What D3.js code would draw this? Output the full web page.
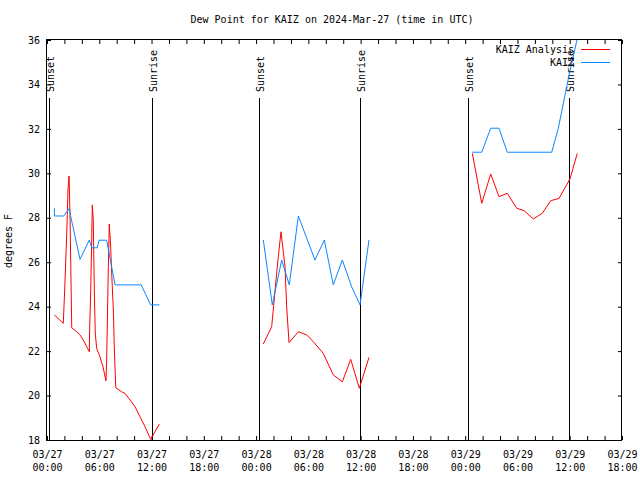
<!DOCTYPE html>
<html><head><meta charset="utf-8">
<script src="https://cdn.jsdelivr.net/npm/d3@7"></script>
<style>
body{margin:0;background:#fff}
text{font-family:"DejaVu Sans Mono","Liberation Mono",monospace;font-size:10px;fill:#000}
</style>
</head><body>
<svg id="chart" width="640" height="480"></svg>
<script>
// Hours after 2024-03-27 00:00 UTC; null breaks the line
const analysisHours = [0.84,1.87,2.03,2.26,2.41,2.53,2.64,2.84,3.41,3.79,4.17,4.56,4.86,4.90,5.02,5.13,5.20,5.31,5.43,5.54,5.70,6.08,6.43,6.77,6.85,6.97,7.08,7.15,7.27,7.46,7.61,7.73,7.84,7.89,8.57,8.95,9.53,10.10,10.67,11.25,11.90,12.89,
  null,
  24.83,25.79,25.97,26.36,26.63,26.86,27.01,27.32,27.51,27.78,28.85,29.81,30.57,31.71,32.86,33.90,34.86,35.85,36.96,
  null,
  48.82,49.90,50.93,51.88,52.83,53.91,54.75,55.82,56.85,57.82,58.77,60.03,60.87];
const analysisValues = [23.63,23.25,24.75,27.23,29.25,29.88,28.13,23.05,22.87,22.73,22.50,22.20,21.97,23.13,24.75,27.00,28.58,27.90,24.75,22.82,22.13,21.74,21.29,20.66,21.60,24.30,26.55,27.72,27.00,25.20,23.90,22.10,20.90,20.35,20.17,20.10,19.80,19.50,19.05,18.60,18.03,18.72,
  null,
  22.32,23.10,23.85,25.50,26.55,27.37,26.85,25.80,24.00,22.38,22.87,22.73,22.42,21.90,20.93,20.62,21.63,20.33,21.72,
  null,
  30.90,28.65,29.97,28.95,29.10,28.43,28.32,27.95,28.20,28.77,28.87,29.75,30.90];

const stationHours = [0.84,0.86,1.92,2.53,3.79,4.86,5.13,5.77,5.97,6.85,7.81,10.81,11.90,12.91,
  null,
  24.83,25.86,26.94,27.81,28.85,30.76,31.83,32.86,33.90,34.97,35.93,36.96,
  null,
  48.82,49.90,50.93,51.88,52.83,57.93,58.69,59.95,61.24];
const stationValues = [28.43,28.08,28.08,28.41,26.13,27.00,26.65,26.65,26.99,26.99,24.98,24.98,24.08,24.08,
  null,
  27.00,24.08,26.10,24.98,28.08,26.10,27.00,24.98,26.10,24.89,24.08,27.00,
  null,
  30.95,30.95,32.03,32.03,30.95,30.95,32.03,34.47,36.72];

const sunsetHours = [0.27, 24.33, 48.35];
const sunriseHours = [12.02, 35.93, 59.95];
const yTicks = [18,20,22,24,26,28,30,32,34,36];
const seriesNames = ["KAIZ Analysis", "KAIZ"];
const seriesColors = ["#ff0000", "#0a86ff"];
const titleText = "Dew Point for KAIZ on 2024-Mar-27 (time in UTC)";
const yLabel = "degrees F";

const t0 = Date.UTC(2024, 2, 27, 0, 0);
const toDate = h => h == null ? null : new Date(t0 + h * 3600e3);

const L = 47, R = 622, T = 40, B = 440;
const svg = d3.select("#chart");
const x = d3.scaleUtc().domain([toDate(0), toDate(66)]).range([L, R]);
const y = d3.scaleLinear().domain([18, 36]).range([B, T]);

// title
svg.append("text").attr("x", 332).attr("y", 23).attr("text-anchor", "middle").text(titleText);

// y label
svg.append("text").attr("transform", "translate(12,241) rotate(-90)")
  .attr("text-anchor", "middle").text(yLabel);

// axes
const tickDates = d3.range(0, 67, 2).map(toDate);
const fmtD = d3.utcFormat("%m/%d"), fmtT = d3.utcFormat("%H:%M");
const xAxis = d3.axisBottom(x).tickValues(tickDates).tickSizeInner(-4).tickSizeOuter(0).tickPadding(8)
  .tickFormat(d => (d.getUTCHours() % 6 === 0) ? "x" : "");
const gx = svg.append("g").attr("transform", `translate(0,${B})`).call(xAxis);
gx.select(".domain").remove();
gx.selectAll(".tick text").each(function(d){
  const el = d3.select(this);
  el.text(null).attr("y", null).attr("dy", null).attr("font-size", null).attr("font-family", null);
  if (d.getUTCHours() % 6 !== 0) return;
  el.append("tspan").attr("x", 0).attr("y", 18).text(fmtD(d));
  el.append("tspan").attr("x", 0).attr("y", 31).text(fmtT(d));
});
gx.selectAll(".tick line").attr("stroke", "#000");

const gxTop = svg.append("g").attr("transform", `translate(0,${T})`)
  .call(d3.axisTop(x).tickValues(tickDates).tickSizeInner(-4).tickSizeOuter(0).tickFormat(""));
gxTop.select(".domain").remove();

const gy = svg.append("g").attr("transform", `translate(${L},0)`)
  .call(d3.axisLeft(y).tickValues(yTicks).tickSizeInner(-4).tickSizeOuter(0).tickPadding(7).tickFormat(d3.format("d")));
gy.select(".domain").remove();
gy.selectAll(".tick text").attr("font-size", null).attr("font-family", null);
const gyR = svg.append("g").attr("transform", `translate(${R},0)`)
  .call(d3.axisRight(y).tickValues(yTicks).tickSizeInner(-4).tickSizeOuter(0).tickFormat(""));
gyR.select(".domain").remove();

svg.append("rect").attr("x", L - 0.5).attr("y", T - 0.5).attr("width", R - L).attr("height", B - T + 1)
  .attr("fill", "none").attr("stroke", "#000").attr("stroke-width", 1);

// sunrise/sunset markers
const events = sunsetHours.map(h => ({h, label: "Sunset"}))
  .concat(sunriseHours.map(h => ({h, label: "Sunrise"})));
events.forEach(e => {
  const px = Math.round(x(toDate(e.h))) + 0.5;
  svg.append("line").attr("x1", px).attr("x2", px).attr("y1", 98).attr("y2", B)
    .attr("stroke", "#000").attr("stroke-width", 1);
  svg.append("text").attr("transform", `translate(${px + 4.5},92) rotate(-90)`)
    .attr("text-anchor", "start").text(e.label);
});

// lines
svg.append("clipPath").attr("id", "clip").append("rect")
  .attr("x", L).attr("y", T).attr("width", R - L).attr("height", B - T);
const line = d3.line().defined(d => d[0] != null && d[1] != null)
  .x(d => x(toDate(d[0]))).y(d => y(d[1]));
const seriesData = [
  analysisHours.map((h, i) => [h, analysisValues[i]]),
  stationHours.map((h, i) => [h, stationValues[i]])
];
seriesData.forEach((data, i) => {
  svg.append("path").datum(data).attr("clip-path", "url(#clip)")
    .attr("fill", "none").attr("stroke", seriesColors[i]).attr("stroke-width", 1)
    .attr("d", line);
});

// legend
seriesNames.forEach((name, i) => {
  const ly = 49.5 + i * 13;
  svg.append("text").attr("x", 574).attr("y", ly + 3.5).attr("text-anchor", "end").text(name);
  svg.append("line").attr("x1", 581).attr("x2", 610).attr("y1", ly).attr("y2", ly)
    .attr("stroke", seriesColors[i]).attr("stroke-width", 1);
});
</script>
</body></html>
